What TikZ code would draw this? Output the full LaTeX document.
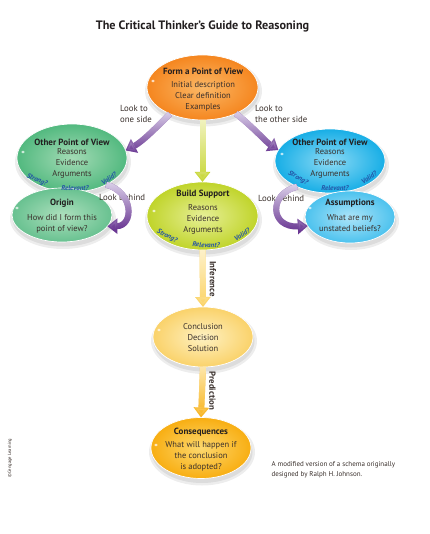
\documentclass[tikz,border=0pt]{standalone}
\usepackage{fontspec}
\setmainfont{PT Sans}
\usetikzlibrary{shapes.geometric,arrows.meta,fadings}
\definecolor{ttl}{HTML}{231F20}
\definecolor{txt}{HTML}{3A302C}
\definecolor{qblue}{HTML}{2454A6}
\definecolor{orgA}{HTML}{F5861F}
\definecolor{orgB}{HTML}{FBB866}
\definecolor{grnA}{HTML}{52B97F}
\definecolor{grnB}{HTML}{A3DBB5}
\definecolor{ogA}{HTML}{68C190}
\definecolor{ogB}{HTML}{ADE0BD}
\definecolor{ygA}{HTML}{C0D42A}
\definecolor{ygB}{HTML}{E6EF96}
\definecolor{bluA}{HTML}{17AEE6}
\definecolor{bluB}{HTML}{8CDAF5}
\definecolor{asA}{HTML}{4CC2EE}
\definecolor{asB}{HTML}{ACE4F8}
\definecolor{conA}{HTML}{FAD26A}
\definecolor{conB}{HTML}{FEF1C2}
\definecolor{cqA}{HTML}{F8AE12}
\definecolor{cqB}{HTML}{FDD86E}
\definecolor{purD}{HTML}{6A3793}
\definecolor{purL}{HTML}{DCD2EA}
\definecolor{ygD}{HTML}{C4D52C}
\definecolor{ygL}{HTML}{F3F4C6}
\definecolor{infD}{HTML}{FBD15E}
\definecolor{infL}{HTML}{FEF3CF}
\definecolor{preD}{HTML}{F8B014}
\definecolor{preL}{HTML}{FEEAB2}
\tikzfading[name=fadedown, top color=transparent!0, bottom color=transparent!100]
\tikzset{
  blob/.style 2 args={ellipse, inner sep=0pt, outer sep=0pt, outer color=#1, inner color=#2, draw=white, line width=0.7pt},
  body/.style={align=center, text=txt, font=\fontsize{8.5}{11}\selectfont, inner sep=0pt},
  head/.style={text=ttl, font=\bfseries\fontsize{9}{11}\selectfont, inner sep=0pt},
  qlab/.style={text=qblue, font=\bfseries\itshape\fontsize{6.9}{8}\selectfont, inner sep=0pt},
  side/.style={align=left, text=txt, font=\fontsize{8.8}{11}\selectfont, inner sep=0pt, anchor=west},
  arr/.style={line width=6pt, line cap=butt, -{Triangle[length=10pt,width=15pt]}},
  hilite/.style={fill=white, opacity=.7},
  shad/.style={fill=black, opacity=.07},
  vlab/.style={rotate=-90, font=\bfseries\fontsize{8.8}{9}\selectfont, text=txt, inner sep=0pt},
}
\newcommand\gradarrow[3]{%
  \draw[arr, draw=#1] #3;
  \draw[arr, draw=#2, path fading=fadedown] #3;
}
\newcommand\softshade[3]{%
  \fill[shad] (#1) ellipse [x radius=#2+3, y radius=#3+3];
  \fill[shad] (#1) ellipse [x radius=#2+0.5, y radius=#3+0.5];
}
\begin{document}
\begin{tikzpicture}[x=1pt,y=-1pt]
\useasboundingbox[fill=white] (0,0) rectangle (429,534);

% soft shadows
\softshade{203.5,91}{55.5}{32.5}
\softshade{73,162}{55}{34}
\softshade{63,219}{50}{27}
\softshade{203.5,220}{55.5}{34}
\softshade{331,165}{55}{32}
\softshade{351,221}{45}{26}
\softshade{204,341}{50}{30}
\softshade{202,452}{50}{30.5}

% title
\node[font=\bfseries\fontsize{12.2}{14}\selectfont, text=ttl] (title) at (202.5,26) {The Critical Thinker’s Guide to Reasoning};

% ellipses
\node[blob={orgA}{orgB}, minimum width=111pt, minimum height=65pt] (form) at (202.5,87.5) {};
\node[blob={grnA}{grnB}, minimum width=110pt, minimum height=68pt] (othL) at (72,158) {};
\node[blob={ogA}{ogB}, minimum width=100pt, minimum height=54pt] (origin) at (62,215) {};
\node[blob={ygA}{ygB}, minimum width=111pt, minimum height=68pt] (build) at (202.5,216) {};
\node[blob={bluA}{bluB}, minimum width=110pt, minimum height=64pt] (othR) at (330,161) {};
\node[blob={asA}{asB}, minimum width=90pt, minimum height=52pt] (assum) at (350,217) {};
\node[blob={conA}{conB}, minimum width=100pt, minimum height=60pt] (concl) at (203,337) {};
\node[blob={cqA}{cqB}, minimum width=100pt, minimum height=61pt] (conseq) at (201,448) {};

% highlights
\fill[hilite] (153,81) ellipse [x radius=1.8, y radius=1.4];
\fill[hilite] (23,152) ellipse [x radius=1.8, y radius=1.4];
\fill[hilite] (17,208) ellipse [x radius=1.8, y radius=1.4];
\fill[hilite] (154,211) ellipse [x radius=1.8, y radius=1.4];
\fill[hilite] (282,154) ellipse [x radius=1.8, y radius=1.4];
\fill[hilite] (310,208) ellipse [x radius=1.8, y radius=1.4];
\fill[hilite] (159,330) ellipse [x radius=1.8, y radius=1.4];
\fill[hilite] (156,445) ellipse [x radius=1.8, y radius=1.4];

% node texts
\node[head] (formh) at (203,71) {Form a Point of View};
\node[body] (formb) at (203,96) {Initial description\\Clear definition\\Examples};
\node[head] (othLh) at (72,142) {Other Point of View};
\node[body] (othLb) at (72,163.5) {Reasons\\Evidence\\Arguments};
\node[head] (originh) at (62,203) {Origin};
\node[body] (originb) at (62,223.5) {How did I form this\\point of view?};
\node[head] (buildh) at (203,194) {Build Support};
\node[body] (buildb) at (203,219) {Reasons\\Evidence\\Arguments};
\node[head] (othRh) at (330,142) {Other Point of View};
\node[body] (othRb) at (330,163.5) {Reasons\\Evidence\\Arguments};
\node[head] (assumh) at (350,203) {Assumptions};
\node[body] (assumb) at (350,223.5) {What are my\\unstated beliefs?};
\node[body] (conclb) at (203,337.5) {Conclusion\\Decision\\Solution};
\node[head] (conseqh) at (201,432) {Consequences};
\node[body] (conseqb) at (201,456.5) {What will happen if\\the conclusion\\is adopted?};

% question labels
\node[qlab, rotate=-25] (qL1) at (37,180) {Strong?};
\node[qlab] (qL2) at (75,188) {Relevant?};
\node[qlab, rotate=35] (qL3) at (109,179) {Valid?};
\node[qlab, rotate=-28] (qB1) at (167,236) {Strong?};
\node[qlab, rotate=-3] (qB2) at (206,245) {Relevant?};
\node[qlab, rotate=33] (qB3) at (242,235) {Valid?};
\node[qlab, rotate=-30] (qR1) at (298,178) {Strong?};
\node[qlab] (qR2) at (335,188) {Relevant?};
\node[qlab, rotate=35] (qR3) at (369,178) {Valid?};

% side labels
\node[side] (lookL) at (120,113.5) {Look to\\one side};
\node[side] (lookR) at (255,113.5) {Look to\\the other side};
\node[side] (behL) at (99,197) {Look behind};
\node[side] (behR) at (258,198) {Look behind};

% connectors
\gradarrow{ygD}{ygL}{(form.south) -- (build.north)}
\gradarrow{infD}{infL}{(build.south) -- (concl.north)}
\gradarrow{preD}{preL}{(concl.south) -- (conseq.north)}
\gradarrow{purD}{purL}{(form.219) .. controls (156,128) and (142,142) .. (othL.8)}
\gradarrow{purD}{purL}{(form.322) .. controls (254,128) and (266,142) .. (othR.168)}
\gradarrow{purD}{purL}{(othL.322) .. controls (134,192) and (134,226) .. (origin.346)}
\gradarrow{purD}{purL}{(othR.218) .. controls (268,194) and (270,228) .. (assum.192)}

% arrow labels
\node[vlab] (infl) at (213,279) {Inference};
\node[vlab] (predl) at (212.5,391) {Prediction};

% footnote and credit
\node[anchor=north west, align=left, text=txt, inner sep=0pt, font=\fontsize{7}{9.5}\selectfont] (note) at (271.5,461.5) {A modified version of a schema originally\\designed by Ralph H. Johnson.};
\node[rotate=90, text=txt, inner sep=0pt, font=\fontsize{4.6}{5}\selectfont] (copy) at (10,458) {©Cengage Learning};
\end{tikzpicture}
\end{document}
